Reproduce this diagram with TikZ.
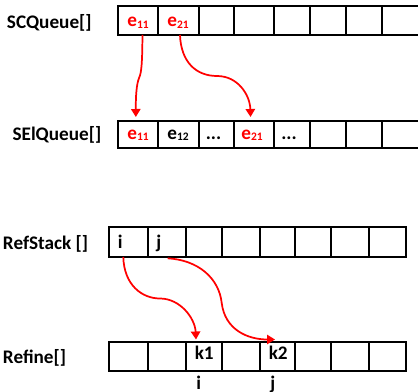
\documentclass[tikz,border=0pt]{standalone}
\usepackage{fontspec}
\setmainfont{Carlito}
\usetikzlibrary{arrows.meta,calc}
\definecolor{arrred}{RGB}{255,0,0}
\newcommand\sbx[1]{\raisebox{-1pt}{\fontsize{8.6}{9}\selectfont #1}}
\begin{document}
\begin{tikzpicture}[x=0.75pt,y=-0.75pt,
  cell/.style={draw=black,line width=1.4pt,rectangle,inner sep=0pt,outer sep=0pt},
  lbl/.style={font=\fontsize{14.4}{16}\selectfont\bfseries,inner sep=0pt,anchor=base west},
  val/.style={font=\fontsize{14.4}{16}\selectfont\bfseries,inner sep=0pt,anchor=base},
  valw/.style={val,anchor=base west},
  hot/.style={text=arrred},
  link/.style={draw=arrred,line width=1.3pt,-{Triangle[width=7pt,length=6pt]}}]
\useasboundingbox (0,0) rectangle (418,392);
\clip (0,0) rectangle (418,392);

% SCQueue row (runs past the right edge)
\foreach \n/\a/\b in {1/118/158.3,2/158.3/198.7,3/198.7/234.3,4/234.3/274,5/274/309.7,6/309.7/345.7,7/345.7/382.3,8/382.3/430}
  \node[cell,minimum width={(\b-\a)*0.75pt},minimum height={29*0.75pt}] (sc\n) at ({(\a+\b)/2},20.5) {};
% SElQueue row
\foreach \n/\a/\b in {1/118/158.3,2/158.3/198.7,3/198.7/234.3,4/234.3/274,5/274/309.7,6/309.7/345.7,7/345.7/382.3,8/382.3/430}
  \node[cell,minimum width={(\b-\a)*0.75pt},minimum height={26.7*0.75pt}] (se\n) at ({(\a+\b)/2},134.35) {};
% RefStack row
\foreach \n/\a/\b in {1/108.7/147.7,2/147.7/185.7,3/185.7/221.7,4/221.7/259.7,5/259.7/295.3,6/295.3/331.3,7/331.3/369.3,8/369.3/406}
  \node[cell,minimum width={(\b-\a)*0.75pt},minimum height={29.4*0.75pt}] (rs\n) at ({(\a+\b)/2},242) {};
% Refine row
\foreach \n/\a/\b in {1/108.7/147.7,2/147.7/185.7,3/185.7/221.7,4/221.7/259.7,5/259.7/295.3,6/295.3/331.3,7/331.3/369.3,8/369.3/406}
  \node[cell,minimum width={(\b-\a)*0.75pt},minimum height={29*0.75pt}] (rf\n) at ({(\a+\b)/2},356.8) {};

% row labels
\node[lbl] (lsc) at (6.7,28.3) {SCQueue[]};
\node[lbl] (lse) at (12.3,140.5) {SElQueue[]};
\node[lbl] (lrs) at (2.7,249.3) {RefStack []};
\node[lbl] (lrf) at (2.7,363.5) {Refine[]};

% cell contents
\node[val,hot] (t11) at (138,26.7) {e\sbx{11}};
\node[val,hot] (t21) at (178,26.7) {e\sbx{21}};
\node[val,hot] (u11) at (138,139.3) {e\sbx{11}};
\node[val] (u12) at (178,139.3) {e\sbx{12}};
\node[val] (ud1) at (213.5,139.3) {...};
\node[val,hot] (u21) at (252,139.3) {e\sbx{21}};
\node[val] (ud2) at (289,139.3) {...};
\node[valw] (ri) at (117.5,248.3) {i};
\node[valw] (rj) at (156,248.3) {j};
\node[valw] (k1) at (194.5,359.3) {k1};
\node[valw] (k2) at (268.5,359.3) {k2};
\node[valw] (bi) at (196,389) {i};
\node[valw] (bj) at (270,389) {j};

% links
\draw[link] ($(sc1.south)+(4.3,0)$) .. controls (142.3,62) and (141.5,73) .. (139.2,77.5)
  .. controls (136.5,84) and (135.7,96) .. ($(se1.north)+(-2.3,-4)$);
\draw[link] ($(sc2.south)+(1.5,0)$) .. controls (181,62) and (196,76) .. (217,76)
  .. controls (238,76) and (250,95) .. ($(se4.north)+(-3.6,-4)$);
\draw[link] ($(rs1.south)+(-4.9,0.3)$) .. controls (124,285) and (142,298.5) .. (160,298.5)
  .. controls (180,298.5) and (195,318) .. ($(rf3.north)+(-7.7,-2.8)$);
\draw[link] ($(rs2.south)+(1,1.6)$) .. controls (198,260) and (219,278) .. (221.7,303)
  .. controls (225,330) and (248,339.5) .. ($(rf5.north)+(-2.5,-2.8)$);
\end{tikzpicture}
\end{document}
